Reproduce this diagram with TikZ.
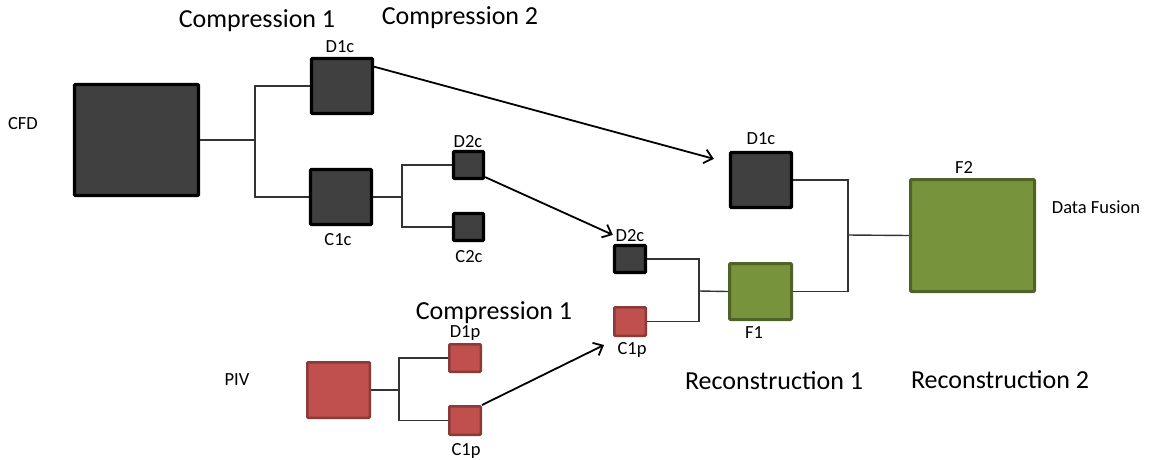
\documentclass[tikz,border=0pt]{standalone}
\usepackage{fontspec}
\setmainfont{Carlito}
\usetikzlibrary{arrows.meta}

\definecolor{darkfill}{HTML}{404040}
\definecolor{redfill}{HTML}{C0504D}
\definecolor{redline}{HTML}{8C3A38}
\definecolor{greenfill}{HTML}{77933C}
\definecolor{greenline}{HTML}{4F6228}
\definecolor{wirecol}{HTML}{333333}

\tikzset{
  box/.style={rectangle, inner sep=0pt, rounded corners=1pt},
  cbox/.style={box, draw=black, fill=darkfill, line width=3.3pt},
  pbox/.style={box, draw=redline, fill=redfill, line width=2.5pt},
  fbox/.style={box, draw=greenline, fill=greenfill, line width=3pt},
  wire/.style={draw=wirecol, line width=1.4pt},
  flow/.style={draw=black, line width=1.8pt, -{Straight Barb[length=8pt,width=14pt,line width=1.8pt]}},
  small/.style={inner sep=0pt, font=\fontsize{18.5}{20}\selectfont},
  big/.style={inner sep=0pt, font=\fontsize{26}{28}\selectfont},
}

\begin{document}
\begin{tikzpicture}[x=1pt, y=-1pt]
\useasboundingbox (0,0) rectangle (1149,459);

% CFD branch
\node[cbox, minimum width=124pt, minimum height=111pt] (cfd) at (136.5,140) {};
\node[cbox, minimum width=61pt, minimum height=55pt] (d1c) at (342,86) {};
\node[cbox, minimum width=61pt, minimum height=55pt] (c1c) at (341,197) {};
\node[cbox, minimum width=30pt, minimum height=27pt] (d2c) at (468.5,165) {};
\node[cbox, minimum width=30pt, minimum height=27pt] (c2c) at (468.5,227) {};

% PIV branch
\node[pbox, minimum width=62.5pt, minimum height=55.5pt] (piv) at (338.5,390) {};
\node[pbox, minimum width=31.5pt, minimum height=27.5pt] (d1p) at (465,358) {};
\node[pbox, minimum width=31.5pt, minimum height=28.5pt] (c1p) at (465,420.5) {};

% reconstruction stage
\node[cbox, minimum width=31pt, minimum height=27pt] (d2cr) at (630,259) {};
\node[pbox, minimum width=31.5pt, minimum height=28.5pt] (c1pr) at (630,321.5) {};
\node[fbox, minimum width=62pt, minimum height=56pt] (f1) at (760.5,291.5) {};
\node[cbox, minimum width=61pt, minimum height=55pt] (d1cr) at (761,180) {};
\node[fbox, minimum width=124pt, minimum height=112pt] (f2) at (972.5,235.5) {};

% split / merge junctions
\coordinate (j1) at (255,140);
\coordinate (j2) at (402,197);
\coordinate (j3) at (399,390);
\coordinate (j4) at (699,291);
\coordinate (j5) at (848,235);

\draw[wire] (cfd.east) -- (j1);
\draw[wire] (j1) |- (d1c.west);
\draw[wire] (j1) |- (c1c.west);
\draw[wire] (c1c.east) -- (j2);
\draw[wire] (j2) |- (d2c.west);
\draw[wire] (j2) |- (c2c.west);
\draw[wire] (piv.east) -- (j3);
\draw[wire] (j3) |- (d1p.west);
\draw[wire] (j3) |- (c1p.west);
\draw[wire] (d2cr.east) -| (j4);
\draw[wire] (c1pr.east) -| (j4);
\draw[wire] (j4) -- (f1.west);
\draw[wire] (d1cr.east) -| (j5);
\draw[wire] (f1.east) -| (j5);
\draw[wire] (j5) -- (f2.west);

% transfer arrows
\draw[flow] (d1c.31) -- ([xshift=-15pt,yshift=-8pt]d1cr.north west);
\draw[flow] (d2c.-36) -- ([yshift=9pt]d2cr.north west);
\draw[flow] (c1p.north east) -- ([xshift=-9pt,yshift=-8pt]c1pr.south west);

% stage titles
\node[big] (tc1) at (257,21) {Compression 1};
\node[big] (tc2) at (460,18) {Compression 2};
\node[big] (tc1p) at (494,313) {Compression 1};
\node[big] (tr1) at (774,381) {Reconstruction 1};
\node[big] (tr2) at (1000,380) {Reconstruction 2};

% box labels
\node[small] (lcfd) at (23,124) {CFD};
\node[small] (lpiv) at (237,380) {PIV};
\node[small] (ld1c) at (340,47) {D1c};
\node[small] (lc1c) at (338,240) {C1c};
\node[small] (ld2c) at (468,142) {D2c};
\node[small] (lc2c) at (469,257) {C2c};
\node[small] (ld1p) at (465,333) {D1p};
\node[small] (lc1p) at (466,451) {C1p};
\node[small] (ld2cr) at (630,236) {D2c};
\node[small] (lc1pr) at (632,350) {C1p};
\node[small] (ld1cr) at (761,139) {D1c};
\node[small] (lf1) at (754,333) {F1};
\node[small] (lf2) at (964,167) {F2};
\node[small] (lfus) at (1096,207) {Data Fusion};
\end{tikzpicture}
\end{document}
